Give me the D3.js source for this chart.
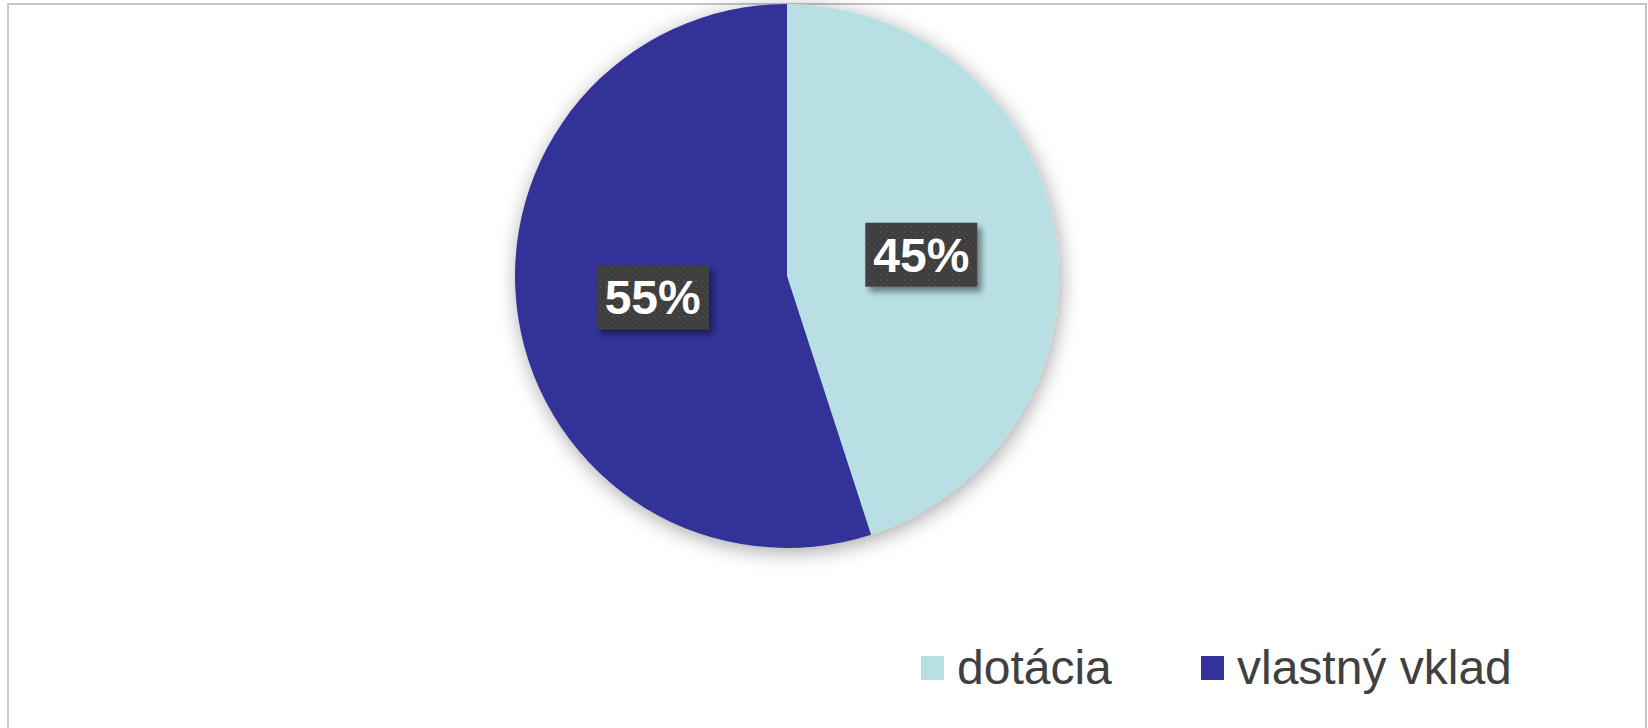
<!DOCTYPE html>
<html>
<head>
<meta charset="utf-8">
<script src="https://cdn.jsdelivr.net/npm/d3@7"></script>
<style>
  body { margin: 0; background: #fff; }
  text { font-family: "Liberation Sans", Arial, sans-serif; }
</style>
</head>
<body>
<div id="chart-area"></div>
<script>
// data
var categories = ["dotácia", "vlastný vklad"];
var values     = [45, 55];
var colors     = ["#b8dfe3", "#333399"];

var svgWidth  = 1648;
var svgHeight = 728;

var svg = d3.select("#chart-area")
            .append("svg")
            .attr("width", svgWidth)
            .attr("height", svgHeight);

var defs = svg.append("defs");

// soft shadow behind the pie
var pieShadow = defs.append("filter")
                    .attr("id", "pieShadow")
                    .attr("x", "-20%").attr("y", "-20%")
                    .attr("width", "140%").attr("height", "140%");
pieShadow.append("feDropShadow")
         .attr("dx", 2).attr("dy", 4)
         .attr("stdDeviation", 10)
         .attr("flood-color", "#000")
         .attr("flood-opacity", 0.35);

// shadow for label boxes
var boxShadow = defs.append("filter")
                    .attr("id", "boxShadow")
                    .attr("x", "-20%").attr("y", "-30%")
                    .attr("width", "150%").attr("height", "170%");
boxShadow.append("feDropShadow")
         .attr("dx", 4).attr("dy", 5)
         .attr("stdDeviation", 3)
         .attr("flood-color", "#000")
         .attr("flood-opacity", 0.45);

// dotted texture of the label boxes
var dots = defs.append("pattern")
               .attr("id", "dots")
               .attr("width", 6).attr("height", 6)
               .attr("patternUnits", "userSpaceOnUse");
dots.append("rect").attr("width", 6).attr("height", 6).attr("fill", "#3d3d3d");
dots.append("circle").attr("cx", 1.5).attr("cy", 1.5).attr("r", 1).attr("fill", "#555");
dots.append("circle").attr("cx", 4.5).attr("cy", 4.5).attr("r", 1).attr("fill", "#4a4a4a");

// frame
svg.append("rect")
   .attr("x", 8).attr("y", 4)
   .attr("width", 1638).attr("height", 740)
   .attr("fill", "none")
   .attr("stroke", "#c6c6c6")
   .attr("stroke-width", 2);

var cx = 787, cy = 276, radius = 272;

var pie = d3.pie().sort(null).value((d) => d.value);
var arc = d3.arc().innerRadius(0).outerRadius(radius);

var pieData = pie(categories.map((c, i) => ({ name: c, value: values[i], color: colors[i] })));

var graphSpace = svg.append("g")
                    .attr("transform", "translate(" + cx + ", " + cy + ")");

graphSpace.append("g")
          .attr("filter", "url(#pieShadow)")
          .selectAll("path")
          .data(pieData)
          .enter()
          .append("path")
          .attr("d", arc)
          .attr("fill", (d) => d.data.color);

// labels
var labels = graphSpace.selectAll("g.label")
                       .data(pieData)
                       .enter()
                       .append("g")
                       .attr("class", "label")
                       .attr("transform", (d) => "translate(" + arc.centroid(d) + ")");

labels.append("rect")
      .attr("x", -56).attr("y", -32)
      .attr("width", 112).attr("height", 64)
      .attr("fill", "url(#dots)")
      .attr("filter", "url(#boxShadow)");

labels.append("text")
      .attr("text-anchor", "middle")
      .attr("dy", 17)
      .attr("font-size", "48px")
      .attr("font-weight", "bold")
      .attr("fill", "#fff")
      .text((d) => d.data.value + "%");

// legend
var legendX = [921, 1201];
var legend = svg.selectAll("g.legend")
                .data(categories)
                .enter()
                .append("g")
                .attr("class", "legend")
                .attr("transform", (d, i) => "translate(" + legendX[i] + ", 656)");

legend.append("rect")
      .attr("width", 23).attr("height", 24)
      .attr("fill", (d, i) => colors[i]);

legend.append("text")
      .attr("x", 36)
      .attr("y", 28)
      .attr("font-size", "48px")
      .attr("fill", "#404040")
      .text((d) => d);
</script>
</body>
</html>
